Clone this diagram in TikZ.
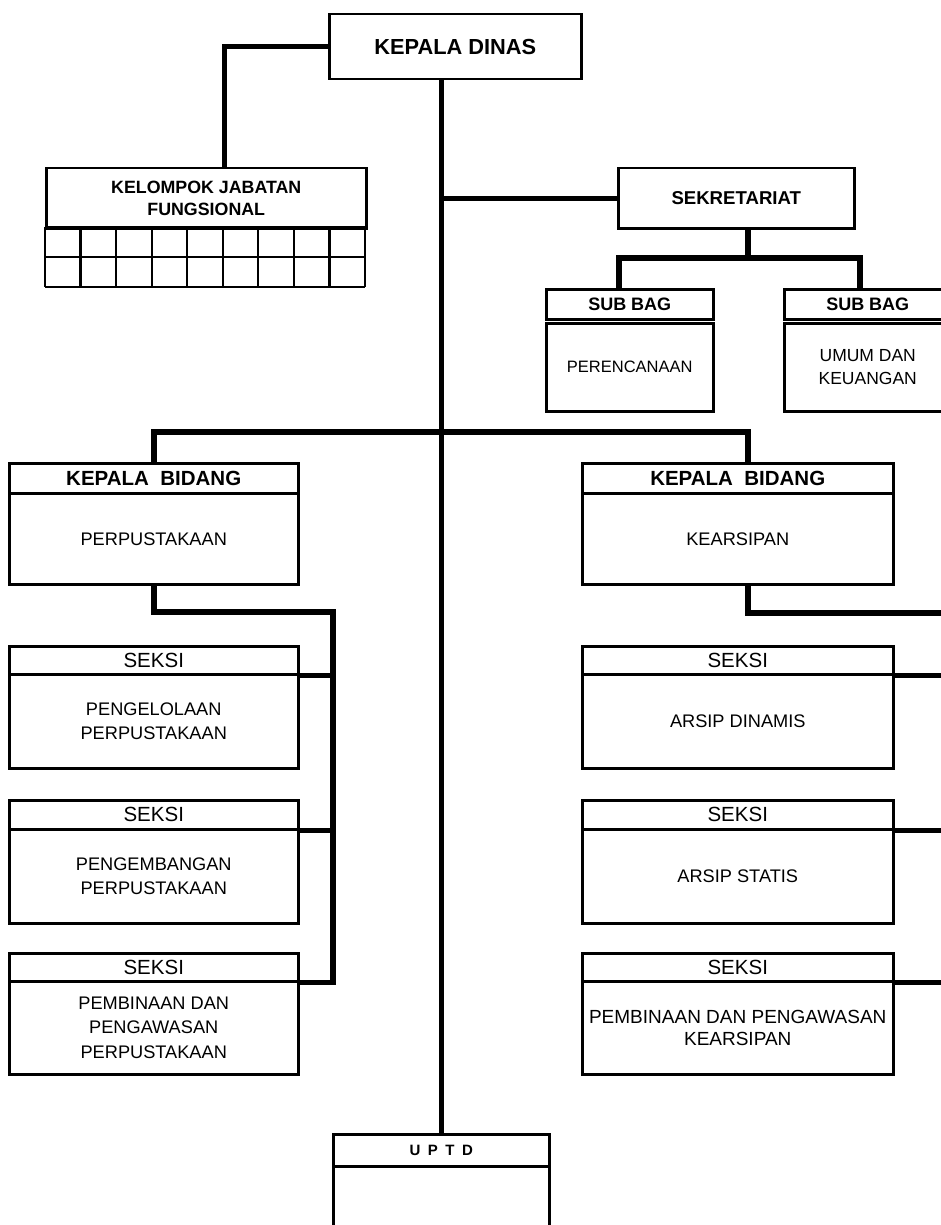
\documentclass[tikz,border=0pt]{standalone}
\usepackage{fontspec}
\setmainfont{Liberation Sans}
\usetikzlibrary{calc}
\newcommand{\fsz}[2]{\fontsize{#1}{#2}\selectfont}
\begin{document}
\begin{tikzpicture}[x=1pt,y=-1pt,
  box/.style={draw, line width=2.5pt, inner sep=0pt, align=center, anchor=north west},
  conn/.style={line width=5.5pt},
  gridline/.style={line width=2.2pt},
  hbold/.style={font=\fsz{20.5}{24}\bfseries},
  hreg/.style={font=\fsz{20.5}{24}},
  body/.style={font=\fsz{18.2}{24.5}}]
\useasboundingbox (0,0) rectangle (941,1225);
\fill[white] (0,0) rectangle (941,1225);
\clip (0,0) rectangle (941,1225);

% top
\node[box, minimum width=252pt, minimum height=65pt, font=\fsz{21.8}{24}\bfseries] (kd) at (328,13) {KEPALA DINAS};
\node[box, minimum width=320pt, minimum height=60pt, font=\fsz{17.8}{22}\bfseries] (kjf) at (45,167) {KELOMPOK JABATAN\\FUNGSIONAL};
\foreach \i in {0,...,9} \draw[gridline] ({45+\i*320/9},227) -- ({45+\i*320/9},287);
\foreach \j in {227,257,287} \draw[gridline] (45,\j) -- (365,\j);
\node[box, minimum width=236pt, minimum height=60pt, font=\fsz{18.6}{21}\bfseries] (sek) at (617,167) {SEKRETARIAT};

% sub bag
\node[box, minimum width=167pt, minimum height=30pt, font=\fsz{18}{21}\bfseries] (sb1h) at (545,288) {SUB BAG};
\node[box, minimum width=167pt, minimum height=88pt, font=\fsz{16.5}{20}] (sb1b) at (545,322) {PERENCANAAN};
\node[box, minimum width=167pt, minimum height=30pt, font=\fsz{18}{21}\bfseries] (sb2h) at (783,288) {SUB BAG};
\node[box, minimum width=167pt, minimum height=88pt, font=\fsz{17.5}{23}] (sb2b) at (783,322) {UMUM DAN\\KEUANGAN};

% kepala bidang
\node[box, hbold, minimum width=289pt, minimum height=30pt] (kb1h) at (8,462) {KEPALA\ \ BIDANG};
\node[box, body, minimum width=289pt, minimum height=91pt] (kb1b) at (8,492) {PERPUSTAKAAN};
\node[box, hbold, minimum width=311pt, minimum height=30pt] (kb2h) at (581,462) {KEPALA\ \ BIDANG};
\node[box, body, minimum width=311pt, minimum height=91pt] (kb2b) at (581,492) {KEARSIPAN};

% seksi left
\node[box, hreg, minimum width=289pt, minimum height=28pt] (ls1h) at (8,645) {SEKSI};
\node[box, body, minimum width=289pt, minimum height=94pt] (ls1b) at (8,673) {PENGELOLAAN\\PERPUSTAKAAN};
\node[box, hreg, minimum width=289pt, minimum height=29pt] (ls2h) at (8,799) {SEKSI};
\node[box, body, minimum width=289pt, minimum height=94pt] (ls2b) at (8,828) {PENGEMBANGAN\\PERPUSTAKAAN};
\node[box, hreg, minimum width=289pt, minimum height=28pt] (ls3h) at (8,952) {SEKSI};
\node[box, body, minimum width=289pt, minimum height=93pt] (ls3b) at (8,980) {PEMBINAAN DAN\\PENGAWASAN\\PERPUSTAKAAN};

% seksi right
\node[box, hreg, minimum width=311pt, minimum height=28pt] (rs1h) at (581,645) {SEKSI};
\node[box, body, minimum width=311pt, minimum height=94pt] (rs1b) at (581,673) {ARSIP DINAMIS};
\node[box, hreg, minimum width=311pt, minimum height=29pt] (rs2h) at (581,799) {SEKSI};
\node[box, body, minimum width=311pt, minimum height=94pt] (rs2b) at (581,828) {ARSIP STATIS};
\node[box, hreg, minimum width=311pt, minimum height=28pt] (rs3h) at (581,952) {SEKSI};
\node[box, minimum width=311pt, minimum height=93pt, font=\fsz{19}{22}] (rs3b) at (581,980) {PEMBINAAN DAN PENGAWASAN\\KEARSIPAN};

% uptd
\node[box, minimum width=216pt, minimum height=32pt, font=\fsz{15}{18}\bfseries] (uh) at (332,1133) {U\hspace{7.5pt}P\hspace{7.5pt}T\hspace{7.5pt}D};
\node[box, minimum width=216pt, minimum height=75pt] (ub) at (332,1165) {};

% connectors
\draw[conn] (kd.west) -| ([xshift=18pt]kjf.north);
\draw[conn] (kd.south -| uh.north) -- (uh.north);
\draw[conn] (uh.north |- sek.west) -- (sek.west);
\coordinate (sj) at (748,258);
\draw[conn] (sek.south -| sj) -- (sj);
\draw[conn] ([xshift=-11pt]sb1h.north) |- (sj) -| ([xshift=-8pt]sb2h.north);
\coordinate (kj) at (748,432);
\draw[conn] (kb1h.north) |- (kj) -- (kb2h.north -| kj);
\coordinate (lv) at (333,612);
\draw[conn] (kb1b.south) |- (lv) |- (ls3h.south east);
\draw[conn] (ls1h.south east) -- (ls1h.south east -| lv);
\draw[conn] (ls2h.south east) -- (ls2h.south east -| lv);
\coordinate (rv) at (955,613);
\draw[conn] (kb2b.south -| kj) |- (rv) |- (rs3h.south east);
\draw[conn] (rs1h.south east) -- (rs1h.south east -| rv);
\draw[conn] (rs2h.south east) -- (rs2h.south east -| rv);
\end{tikzpicture}
\end{document}
